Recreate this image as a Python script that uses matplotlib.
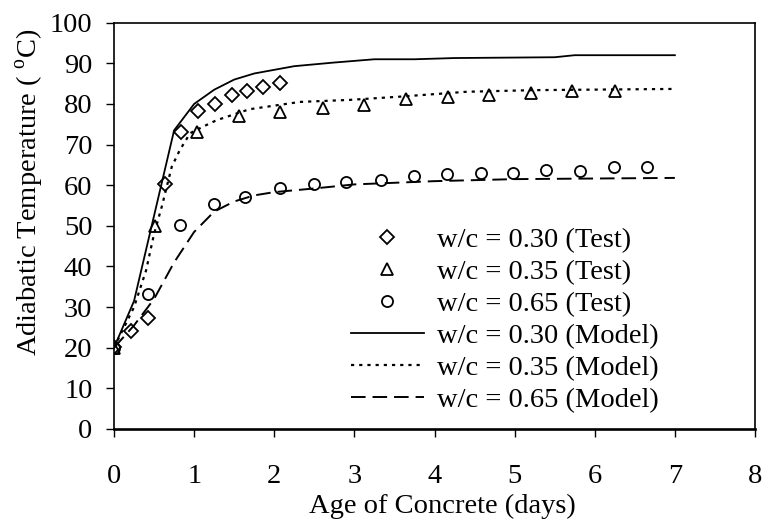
import matplotlib
matplotlib.use("Agg")
import matplotlib.pyplot as plt

plt.rcParams["font.family"] = ["Liberation Serif", "DejaVu Serif"]
plt.rcParams["mathtext.fontset"] = "custom"
plt.rcParams["mathtext.rm"] = "Liberation Serif"
plt.rcParams["lines.scale_dashes"] = False

# Test data (age in days, temperature in deg C)
t_030 = [0.0, 0.21, 0.42, 0.64, 0.84, 1.05, 1.26, 1.47, 1.66, 1.86, 2.07]
T_030 = [20.2, 24.1, 27.2, 60.3, 73.0, 78.2, 79.9, 82.2, 83.3, 84.1, 85.1]

t_035 = [0.0, 0.51, 1.04, 1.56, 2.07, 2.61, 3.12, 3.64, 4.17, 4.68, 5.20, 5.72, 6.25]
T_035 = [20.0, 49.9, 73.0, 77.0, 78.1, 78.9, 79.7, 81.2, 81.6, 82.2, 82.6, 83.2, 83.2]

t_065 = [0.0, 0.42, 0.82, 1.25, 1.64, 2.07, 2.49, 2.90, 3.33, 3.74, 4.16, 4.58,
         4.98, 5.39, 5.81, 6.24, 6.65]
T_065 = [20.0, 33.3, 50.3, 55.5, 57.1, 59.4, 60.4, 60.8, 61.3, 62.2, 62.7, 63.1,
         63.1, 63.7, 63.5, 64.5, 64.5]

# Model curves
m_t_030 = [0.0, 0.25, 0.75, 1.0, 1.25, 1.5, 1.75, 2.25, 2.75, 3.25, 3.75, 4.25, 5.5, 5.75, 7.0]
m_T_030 = [20.0, 31.5, 73.5, 80.0, 83.5, 86.0, 87.5, 89.3, 90.2, 91.0, 91.0, 91.3, 91.5, 92.0, 92.0]

m_t_035 = [0.0, 0.25, 0.4, 0.5, 0.6, 0.72, 0.82, 0.95, 1.11, 1.28, 1.69, 2.32, 2.94, 3.57,
           4.40, 5.23, 7.0]
m_T_035 = [20.0, 30.0, 39.0, 48.0, 55.0, 64.5, 68.6, 72.8, 74.4, 76.0, 78.7, 80.5, 81.0, 81.8,
           83.0, 83.4, 83.7]

m_t_065 = [0.0, 0.25, 0.5, 0.75, 1.0, 1.25, 1.5, 1.75, 2.0, 2.5, 3.0, 3.5, 4.0, 5.0, 7.0]
m_T_065 = [20.0, 25.5, 32.0, 41.0, 48.5, 53.5, 56.0, 57.5, 58.3, 59.2, 60.2, 60.6, 61.0, 61.5, 61.8]

labels_test = ["w/c = 0.30 (Test)", "w/c = 0.35 (Test)", "w/c = 0.65 (Test)"]
labels_model = ["w/c = 0.30 (Model)", "w/c = 0.35 (Model)", "w/c = 0.65 (Model)"]

FS = 20.5
fig = plt.figure(figsize=(7.64, 5.25), dpi=100)
ax = fig.add_axes([114 / 764, 1 - 429 / 525, 641 / 764, (429 - 22.7) / 525])

mk = dict(linestyle="none", markerfacecolor="none", markeredgecolor="black",
          markeredgewidth=1.3)
ax.plot(t_030, T_030, marker="D", markersize=7.5, label=labels_test[0], **mk)
ax.plot(t_035, T_035, marker="^", markersize=8.5, label=labels_test[1], **mk)
ax.plot(t_065, T_065, marker="o", markersize=8, label=labels_test[2], **mk)

ax.plot(m_t_030, m_T_030, color="black", lw=1.3, label=labels_model[0])
ax.plot(m_t_035, m_T_035, color="black", lw=1.6, dashes=(2.3, 3.6), label=labels_model[1])
ax.plot(m_t_065, m_T_065, color="black", lw=1.4, dashes=(10.5, 5.0), label=labels_model[2])

ax.set_xlim(0, 8)
ax.set_ylim(0, 100)
ax.set_xticks(range(0, 9))
ax.set_yticks(range(0, 101, 10))
ax.tick_params(direction="out", length=6, width=1.0, labelsize=FS, color="black")
ax.tick_params(axis="x", pad=19)
ax.tick_params(axis="y", pad=9.5)
for name, s in ax.spines.items():
    s.set_linewidth(1.9 if name == "bottom" else 1.2)

leg = ax.legend(loc="upper left", bbox_to_anchor=(0.37, 0.496), frameon=False,
                fontsize=FS, handlelength=2.55, handletextpad=0.45, labelspacing=0.21,
                borderpad=0, borderaxespad=0, numpoints=1)

fig.text(442 / 764, 1 - 506 / 525, "Age of Concrete (days)", fontsize=FS,
         ha="center", va="center")
fig.text(30 / 764, 1 - 192 / 525, r"Adiabatic Temperature ( $^{\mathrm{o}}$C)",
         fontsize=FS, rotation=90, ha="center", va="center")

fig.savefig("out.png", dpi=100)
